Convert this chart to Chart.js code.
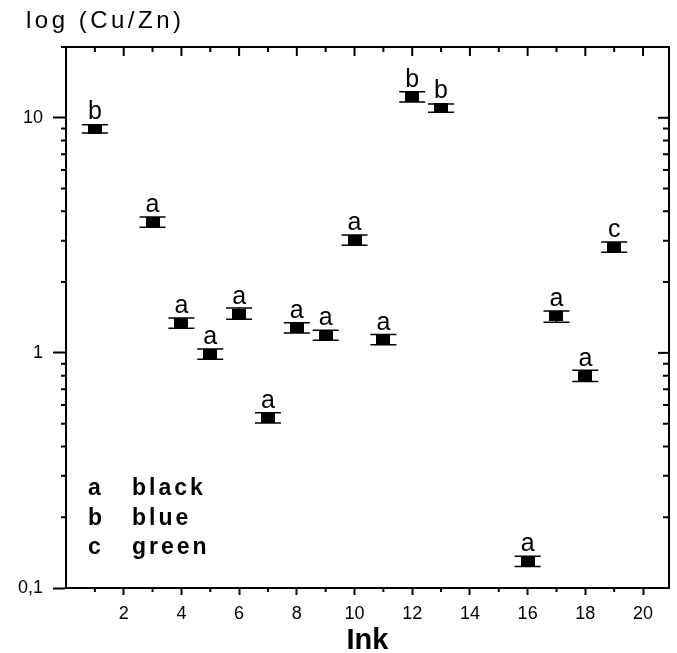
<!DOCTYPE html>
<html>
<head>
<meta charset="utf-8">
<script src="https://cdn.jsdelivr.net/npm/chart.js@4.4.1/dist/chart.umd.min.js"></script>
<style>
  html, body { margin: 0; padding: 0; background: #fff; }
  #chart-div { width: 677px; height: 653px; }
</style>
</head>
<body>
<div id="chart-div"><canvas id="ink-chart"></canvas></div>
<script>
// values
const inkNumbers = [1, 3, 4, 5, 6, 7, 8, 9, 10, 11, 12, 13, 16, 17, 18, 19];
const cuZnRatio = [8.98, 3.60, 1.34, 0.99, 1.47, 0.53, 1.28, 1.19, 3.02, 1.14, 12.3, 11.0, 0.130, 1.43, 0.80, 2.82];
const relError = [0.04, 0.05, 0.05, 0.05, 0.055, 0.05, 0.05, 0.05, 0.05, 0.05, 0.05, 0.04, 0.05, 0.055, 0.055, 0.05];
const inkCode = ['b', 'a', 'a', 'a', 'a', 'a', 'a', 'a', 'a', 'a', 'b', 'b', 'a', 'a', 'a', 'c'];

const legendKeys = ['a', 'b', 'c'];
const legendNames = ['black', 'blue', 'green'];

const xTickValues = [2, 4, 6, 8, 10, 12, 14, 16, 18, 20];
const yTickValues = [0.1, 1, 10];
const yTickLabels = ['0,1', '1', '10'];
const yTitle = 'log (Cu/Zn)';

const FONT = "'Liberation Sans', Arial, sans-serif";
Chart.defaults.font.family = FONT;
Chart.defaults.color = '#000';

// filled rectangle marker
const marker = document.createElement('canvas');
marker.width = 14;
marker.height = 10;
const mctx = marker.getContext('2d');
mctx.fillStyle = '#000';
mctx.fillRect(0, 0, 14, 10);

const frame = {
    id: 'frame',
    afterDraw(chart) {
        const ctx = chart.ctx;
        const a = chart.chartArea;
        const x = chart.scales.x;
        const y = chart.scales.y;

        ctx.save();
        ctx.strokeStyle = '#000';
        ctx.lineWidth = 2;

        // top and right border
        ctx.beginPath();
        ctx.moveTo(a.left, a.top);
        ctx.lineTo(a.right, a.top);
        ctx.lineTo(a.right, a.bottom);
        ctx.stroke();

        // x ticks: top inward, minor ones on the bottom
        for (let v = 1; v <= 20; v++) {
            const px = x.getPixelForValue(v);
            const major = v % 2 === 0;
            ctx.beginPath();
            ctx.moveTo(px, a.top);
            ctx.lineTo(px, a.top + (major ? 9 : 5));
            if (!major) {
                ctx.moveTo(px, a.bottom);
                ctx.lineTo(px, a.bottom + 4);
            }
            ctx.stroke();
        }

        // y ticks: right inward, minor ones on the left
        for (const d of yTickValues) {
            const py = y.getPixelForValue(d);
            ctx.beginPath();
            ctx.moveTo(a.right, py);
            ctx.lineTo(a.right - 11, py);
            ctx.stroke();
            for (let m = 2; m <= 9; m++) {
                const v = d * m;
                if (v > y.max) break;
                const p = y.getPixelForValue(v);
                ctx.beginPath();
                ctx.moveTo(a.left, p);
                ctx.lineTo(a.left - 5, p);
                ctx.moveTo(a.right, p);
                ctx.lineTo(a.right - 6, p);
                ctx.stroke();
            }
        }

        // error bars and colour letters
        ctx.lineWidth = 1.5;
        ctx.font = '25px ' + FONT;
        ctx.textAlign = 'center';
        ctx.textBaseline = 'alphabetic';
        ctx.fillStyle = '#000';
        inkNumbers.forEach((ink, i) => {
            const px = x.getPixelForValue(ink);
            const pc = y.getPixelForValue(cuZnRatio[i]);
            const lo = y.getPixelForValue(cuZnRatio[i] * (1 - relError[i]));
            const hi = y.getPixelForValue(cuZnRatio[i] * (1 + relError[i]));
            ctx.beginPath();
            ctx.moveTo(px, lo);
            ctx.lineTo(px, hi);
            ctx.moveTo(px - 13, lo);
            ctx.lineTo(px + 13, lo);
            ctx.moveTo(px - 13, hi);
            ctx.lineTo(px + 13, hi);
            ctx.stroke();
            ctx.fillText(inkCode[i], px, pc - 10);
        });

        // y axis title, above the plot at the left
        ctx.letterSpacing = '3.5px';
        ctx.textAlign = 'left';
        ctx.font = '24px ' + FONT;
        ctx.fillText(yTitle, 26, a.top - 19);

        // key
        ctx.letterSpacing = '3px';
        ctx.font = 'bold 23px ' + FONT;
        legendKeys.forEach((k, i) => {
            const by = a.bottom - 93 + i * 29.5;
            ctx.fillText(k, a.left + 22, by);
            ctx.fillText(legendNames[i], a.left + 66, by);
        });
        ctx.restore();
        ctx.letterSpacing = '0px';
    }
};

const ctx = document.getElementById('ink-chart').getContext('2d');

const options = {
    type: 'scatter',
    data: {
        datasets: [{
            data: inkNumbers.map((v, i) => ({ x: v, y: cuZnRatio[i] })),
            pointStyle: marker,
            pointRadius: 7,
            showLine: false
        }]
    },
    options: {
        responsive: true,
        maintainAspectRatio: false,
        animation: false,
        layout: {
            padding: { left: 0, right: 1, top: 47, bottom: 0 }
        },
        plugins: {
            legend: { display: false },
            tooltip: { enabled: false }
        },
        scales: {
            x: {
                type: 'linear',
                min: 0,
                max: 20.9,
                afterBuildTicks: (scale) => {
                    scale.ticks = xTickValues.map(v => ({ value: v }));
                },
                afterFit: (scale) => { scale.height = 65; },
                border: { display: true, color: '#000', width: 2 },
                grid: {
                    drawOnChartArea: false,
                    drawTicks: true,
                    tickLength: 7,
                    tickWidth: 2,
                    tickColor: '#000'
                },
                ticks: {
                    autoSkip: false,
                    maxRotation: 0,
                    padding: 8,
                    color: '#000',
                    font: { size: 18 },
                    callback: (v) => String(v)
                },
                title: {
                    display: true,
                    text: 'Ink',
                    color: '#000',
                    font: { size: 29, weight: 'bold', lineHeight: 0.85 },
                    padding: { top: 0, bottom: 0 }
                }
            },
            y: {
                type: 'logarithmic',
                min: 0.1,
                max: 20,
                afterBuildTicks: (scale) => {
                    scale.ticks = yTickValues.map(v => ({ value: v }));
                },
                afterFit: (scale) => { scale.width = 66; },
                border: { display: true, color: '#000', width: 2 },
                grid: {
                    drawOnChartArea: false,
                    drawTicks: true,
                    tickLength: 13,
                    tickWidth: 2,
                    tickColor: '#000'
                },
                ticks: {
                    autoSkip: false,
                    padding: 10,
                    color: '#000',
                    font: { size: 18 },
                    callback: (v, i) => yTickLabels[i]
                }
            }
        }
    },
    plugins: [frame]
};

window.myChart = new Chart(ctx, options);
</script>
</body>
</html>
